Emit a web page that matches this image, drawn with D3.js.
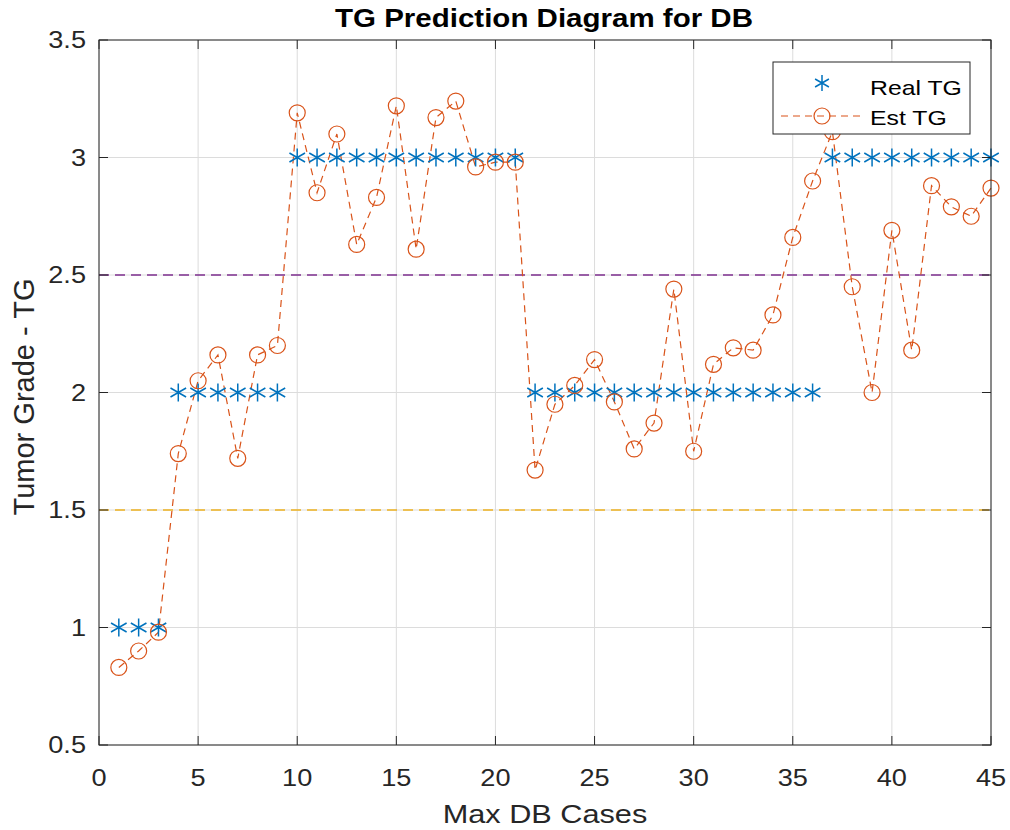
<!DOCTYPE html>
<html><head><meta charset="utf-8">
<script src="https://cdn.jsdelivr.net/npm/d3@7"></script>
<style>body{margin:0;background:#fff}svg{display:block}text{font-family:"Liberation Sans",Arial,sans-serif}</style>
</head><body><div id="chart"></div>
<script>
const cases = d3.range(1, 46);
const realTG = [1,1,1,2,2,2,2,2,2,3,3,3,3,3,3,3,3,3,3,3,3,2,2,2,2,2,2,2,2,2,2,2,2,2,2,2,3,3,3,3,3,3,3,3,3];
const estTG = [0.83,0.90,0.98,1.74,2.05,2.16,1.72,2.16,2.20,3.19,2.85,3.10,2.63,2.83,3.22,2.61,3.17,3.24,2.96,2.98,2.98,
  1.67,1.95,2.03,2.14,1.96,1.76,1.87,2.44,1.75,2.12,2.19,2.18,2.33,2.66,2.90,3.11,2.45,2.00,2.69,2.18,2.88,2.79,2.75,2.87];
const thresholds = [{v:2.5,c:"#7E2F8E"},{v:1.5,c:"#EDB120"}];
const xTicks = [0,5,10,15,20,25,30,35,40,45];
const yTicks = [0.5,1,1.5,2,2.5,3,3.5];

const W=1010,H=830, L=99, R=991, T=40, B=745;
const svg = d3.select("#chart").append("svg").attr("width",W).attr("height",H);
const x = d3.scaleLinear().domain([0,45]).range([L,R]);
const y = d3.scaleLinear().domain([0.5,3.5]).range([B,T]);

// grid
svg.append("g").selectAll("line").data(xTicks).join("line")
  .attr("x1",d=>x(d)).attr("x2",d=>x(d)).attr("y1",T).attr("y2",B).attr("stroke","#dcdcdc").attr("stroke-width",1);
svg.append("g").selectAll("line").data(yTicks).join("line")
  .attr("y1",d=>y(d)).attr("y2",d=>y(d)).attr("x1",L).attr("x2",R).attr("stroke","#dcdcdc").attr("stroke-width",1);

// threshold lines
svg.append("g").selectAll("line").data(thresholds).join("line")
  .attr("x1",L).attr("x2",R).attr("y1",d=>y(d.v)).attr("y2",d=>y(d.v))
  .attr("stroke",d=>d.c).attr("stroke-width",1.5).attr("stroke-dasharray","10,6");

// est line
const est = cases.map((c,i)=>[c,estTG[i]]);
svg.append("path").datum(est).attr("fill","none").attr("stroke","#D95319").attr("stroke-width",1.2)
  .attr("stroke-dasharray","7,5").attr("d",d3.line().x(d=>x(d[0])).y(d=>y(d[1])));

// asterisks
function asterisk(g, cx, cy, r){
  const p = [];
  [90,30,150].forEach(a=>{const t=a*Math.PI/180; p.push(`M${cx+r*Math.cos(t)},${cy-r*Math.sin(t)}L${cx-r*Math.cos(t)},${cy+r*Math.sin(t)}`);});
  g.append("path").attr("d",p.join("")).attr("stroke","#0072BD").attr("stroke-width",1.5).attr("fill","none");
}
const ag = svg.append("g");
cases.forEach((c,i)=>asterisk(ag, x(c), y(realTG[i]), 9));

// circles
svg.append("g").selectAll("circle").data(est).join("circle")
  .attr("cx",d=>x(d[0])).attr("cy",d=>y(d[1])).attr("r",8)
  .attr("fill","none").attr("stroke","#D95319").attr("stroke-width",1.2);

// axes box
svg.append("rect").attr("x",L).attr("y",T).attr("width",R-L).attr("height",B-T)
  .attr("fill","none").attr("stroke","#262626").attr("stroke-width",1);
const tk=9;
const tg = svg.append("g").attr("stroke","#262626").attr("stroke-width",1);
xTicks.forEach(d=>{
  tg.append("line").attr("x1",x(d)).attr("x2",x(d)).attr("y1",B).attr("y2",B-tk);
  tg.append("line").attr("x1",x(d)).attr("x2",x(d)).attr("y1",T).attr("y2",T+tk);
});
yTicks.forEach(d=>{
  tg.append("line").attr("x1",L).attr("x2",L+tk).attr("y1",y(d)).attr("y2",y(d));
  tg.append("line").attr("x1",R).attr("x2",R-tk).attr("y1",y(d)).attr("y2",y(d));
});
svg.append("g").selectAll("text").data(xTicks).join("text").attr("class","wide")
  .attr("x",d=>x(d)).attr("y",786).attr("text-anchor","middle").attr("font-size",23).attr("fill","#262626").text(d=>d);
svg.append("g").selectAll("text").data(yTicks).join("text").attr("class","wide")
  .attr("x",86).attr("y",d=>y(d)+8).attr("text-anchor","end").attr("font-size",23).attr("fill","#262626").text(d=>d);

// labels
svg.append("text").attr("class","wide").attr("x",544).attr("y",27).attr("text-anchor","middle").attr("font-size",25).attr("font-weight","bold").attr("fill","#000").text("TG Prediction Diagram for DB");
svg.append("text").attr("class","wide").attr("x",545).attr("y",823).attr("text-anchor","middle").attr("font-size",26).attr("fill","#262626").text("Max DB Cases");
svg.append("text").attr("transform",`translate(34,397) rotate(-90)`).attr("text-anchor","middle").attr("font-size",29).attr("fill","#262626").text("Tumor Grade - TG");

// legend
const lg = svg.append("g");
lg.append("rect").attr("x",773).attr("y",62).attr("width",197).attr("height",72).attr("fill","#fff").attr("stroke","#262626").attr("stroke-width",1);
asterisk(lg, 822, 83, 8);
lg.append("line").attr("x1",781).attr("x2",860).attr("y1",116).attr("y2",116).attr("stroke","#D95319").attr("stroke-width",1.2).attr("stroke-dasharray","7,5");
lg.append("circle").attr("cx",822).attr("cy",116).attr("r",8).attr("fill","none").attr("stroke","#D95319").attr("stroke-width",1.2);
lg.append("text").attr("class","wide").attr("x",870).attr("y",95).attr("font-size",21).attr("fill","#000").text("Real TG");
lg.append("text").attr("class","wide").attr("x",870).attr("y",125).attr("font-size",21).attr("fill","#000").text("Est TG");

// reference text is rendered slightly wide; stretch horizontally
svg.selectAll("text.wide").each(function(){
  const len = this.getComputedTextLength();
  d3.select(this).attr("textLength", len*1.18).attr("lengthAdjust","spacingAndGlyphs");
});
</script></body></html>
